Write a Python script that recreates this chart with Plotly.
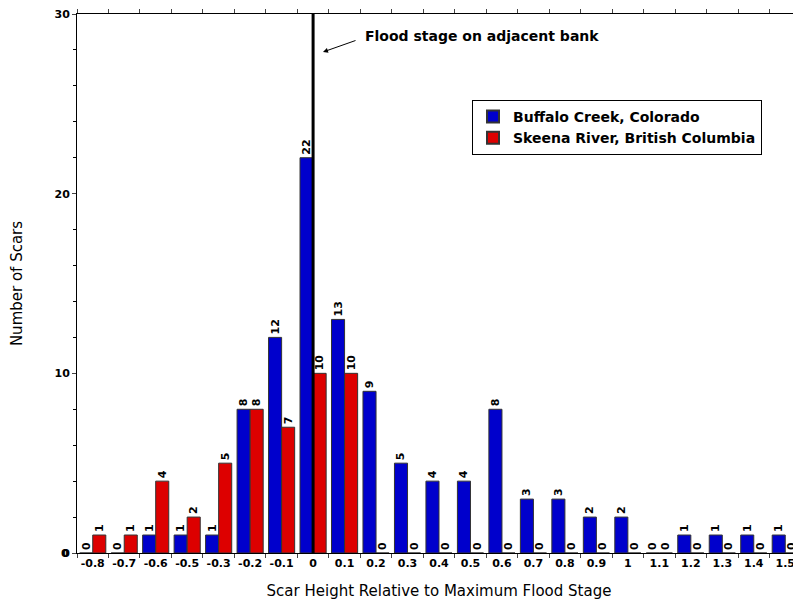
import plotly.graph_objects as go

categories = ["-0.8", "-0.7", "-0.6", "-0.5", "-0.3", "-0.2", "-0.1", "0", "0.1", "0.2",
              "0.3", "0.4", "0.5", "0.6", "0.7", "0.8", "0.9", "1", "1.1", "1.2",
              "1.3", "1.4", "1.5"]
buffalo = [0, 0, 1, 1, 1, 8, 12, 22, 13, 9, 5, 4, 4, 8, 3, 3, 2, 2, 0, 1, 1, 1, 1]
skeena = [1, 1, 4, 2, 5, 8, 7, 10, 10, 0, 0, 0, 0, 0, 0, 0, 0, 0, 0, 0, 0, 0, 0]
y_ticks = [0, 10, 20, 30]

BLUE = "#0000CC"
RED = "#DD0000"
FONT = "DejaVu Sans"

fig = go.Figure()
for name, vals, col in [("Buffalo Creek, Colorado", buffalo, BLUE),
                        ("Skeena River, British Columbia", skeena, RED)]:
    fig.add_trace(go.Bar(
        x=categories, y=vals, name=name,
        marker=dict(color=col, line=dict(color="#333333", width=1)),
        text=[str(v) for v in vals], textposition="outside", textangle=-90,
        textfont=dict(family=FONT, size=11, color="black", weight="bold"),
        cliponaxis=False, constraintext="none",
    ))

fig.add_shape(type="line", xref="x", yref="y", x0=7, x1=7, y0=-0.3, y1=30,
              line=dict(color="black", width=3), layer="above")

# plot area in window pixels: x 77..801, y 14..553
fig.add_annotation(xref="paper", yref="paper", x=(363 - 77) / 724, y=(553 - 36) / 539,
                   xanchor="left", yanchor="middle",
                   text="Flood stage on adjacent bank", showarrow=False,
                   font=dict(family=FONT, size=14, color="black", weight="bold"))
fig.add_annotation(xref="paper", yref="paper", x=(323 - 77) / 724, y=(553 - 52) / 539,
                   text="", showarrow=True, axref="pixel", ayref="pixel",
                   ax=34, ay=-12, arrowhead=2, arrowsize=1, arrowwidth=1,
                   arrowcolor="black")
# y tick label at the origin
fig.add_annotation(xref="paper", yref="paper", x=-0.008, y=0.0, xanchor="right",
                   yanchor="middle", text=str(y_ticks[0]), showarrow=False,
                   font=dict(family=FONT, size=11, color="black", weight="bold"))

fig.update_layout(
    width=793, height=601,
    margin=dict(l=69, r=0, t=6, b=56, autoexpand=False),
    paper_bgcolor="white", plot_bgcolor="white",
    barmode="group", bargap=0.17, bargroupgap=0,
    font=dict(family=FONT, color="black"),
    showlegend=True,
    legend=dict(x=(472 - 77) / 724, y=(553 - 100) / 539, xanchor="left", yanchor="top",
                bordercolor="black", borderwidth=1, bgcolor="white",
                font=dict(family=FONT, size=14, color="black", weight="bold"),
                tracegroupgap=0, itemsizing="constant"),
    xaxis=dict(
        type="category", tickson="boundaries", ticks="outside", ticklen=4,
        tickangle=0, ticklabeloverflow="allow",
        showline=True, linecolor="black", linewidth=1, mirror="ticks",
        showgrid=False, zeroline=False, automargin=False,
        tickfont=dict(family=FONT, size=11, color="black", weight="bold"),
        title=dict(text="Scar Height Relative to Maximum Flood Stage",
                   font=dict(family=FONT, size=15, color="black"), standoff=16),
    ),
    yaxis=dict(
        range=[0, 30], tickmode="array", tickvals=y_ticks,
        ticktext=[str(v) for v in y_ticks],
        ticks="outside", ticklen=4, ticklabeloverflow="allow",
        minor=dict(dtick=2, ticks="outside", ticklen=3, tickcolor="black"),
        showline=True, linecolor="black", linewidth=1, mirror="ticks",
        showgrid=False, zeroline=False, automargin=False,
        tickfont=dict(family=FONT, size=11, color="black", weight="bold"),
        title=dict(text="Number of Scars",
                   font=dict(family=FONT, size=15, color="black"), standoff=31),
    ),
)

fig.write_html("out.html")
